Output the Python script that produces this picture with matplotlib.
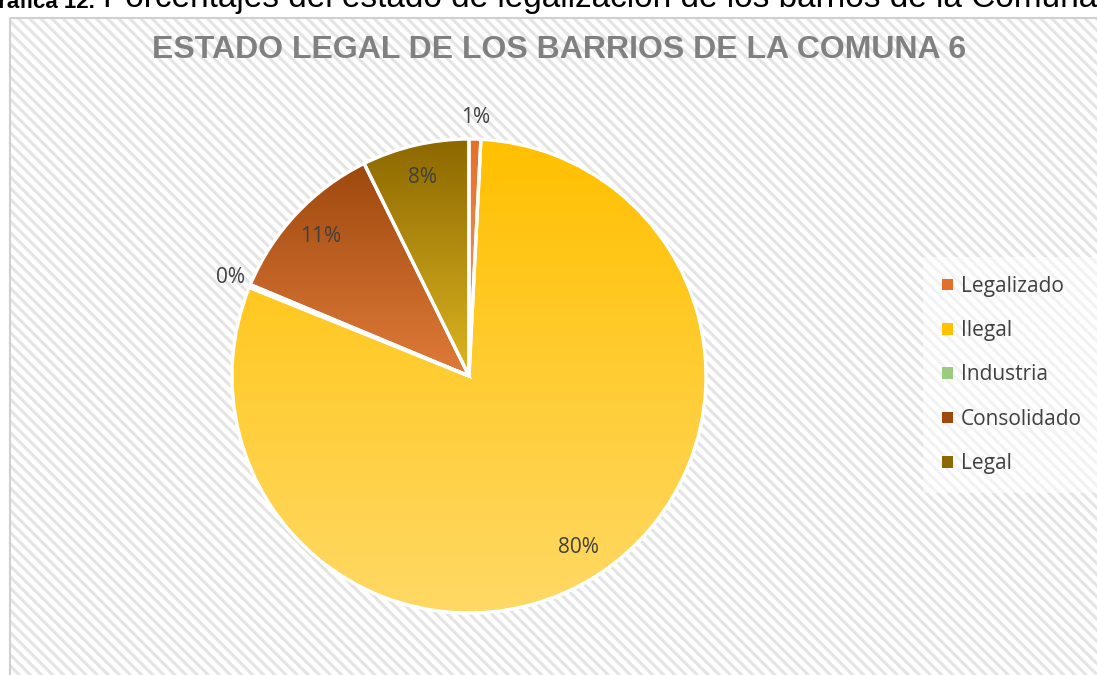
import numpy as np
import matplotlib.pyplot as plt
from matplotlib.patches import Rectangle
from matplotlib.colors import LinearSegmentedColormap

# datos del grafico
categorias = ['Legalizado', 'Ilegal', 'Industria', 'Consolidado', 'Legal']
porcentajes = [0.8, 80.3, 0.2, 11.4, 7.3]
etiquetas = ['1%', '80%', '0%', '11%', '8%']
color_arriba = ['#E2702A', '#FFC000', '#5E9A38', '#9E480E', '#8C6800']
color_abajo = ['#F4A269', '#FFD966', '#9BCB7C', '#E07B39', '#DDB521']

plt.rcParams['hatch.linewidth'] = 2.2

W, H = 1097, 675
fig = plt.figure(figsize=(W / 100, H / 100), dpi=100)
fig.patch.set_facecolor('white')

# fondo rayado del area del grafico
axf = fig.add_axes([0, 0, 1, 1], zorder=-5)
axf.set_xlim(0, W)
axf.set_ylim(H, 0)
axf.axis('off')
axf.add_patch(Rectangle((10, 18), W, H, facecolor='white', edgecolor='#E4E4E4',
                        linewidth=0, hatch='\\\\\\'))
axf.add_patch(Rectangle((10, 18), W, H + 5, facecolor='none', edgecolor='#D0D0D0',
                        linewidth=1.5))

# texto de la figura (cortado arriba)
fig.text(95 / W, 1 - 7.5 / H, 'Gráfica 12.', fontsize=16, fontweight='bold',
         family='Liberation Sans', color='black', va='baseline', ha='right')
fig.text(103 / W, 1 - 7.5 / H,
         'Porcentajes del estado de legalización de los barrios de la Comuna 6',
         fontsize=24, family='Liberation Sans', color='black', va='baseline', ha='left')

# titulo
fig.text(559 / W, 1 - 50 / H, 'ESTADO LEGAL DE LOS BARRIOS DE LA COMUNA 6',
         fontsize=23, fontweight='bold', color='#808080', ha='center', va='center',
         family='Liberation Sans')

# pastel
cx, cy, r = 469, 376, 237
ax = fig.add_axes([(cx - r) / W, 1 - (cy + r) / H, 2 * r / W, 2 * r / H])
ax.set_xlim(-1, 1)
ax.set_ylim(-1, 1)
ax.axis('off')

wedges, _ = ax.pie(porcentajes, startangle=90, counterclock=False, radius=1,
                   wedgeprops=dict(edgecolor='white', linewidth=2.4))

grad = np.linspace(0, 1, 256).reshape(-1, 1)
for i, w in enumerate(wedges):
    cmap = LinearSegmentedColormap.from_list('g%d' % i, [color_arriba[i], color_abajo[i]])
    verts = w.get_path().vertices
    verts = w.get_patch_transform().transform(verts)
    x0, x1 = verts[:, 0].min(), verts[:, 0].max()
    y0, y1 = verts[:, 1].min(), verts[:, 1].max()
    if x1 - x0 < 1e-6:
        x1 = x0 + 0.01
    if y1 - y0 < 1e-6:
        y1 = y0 + 0.01
    w.set_facecolor('none')
    w.set_zorder(3)
    im = ax.imshow(grad, cmap=cmap, extent=[x0, x1, y0, y1], origin='upper',
                   aspect='auto', zorder=2, interpolation='bilinear')
    im.set_clip_path(w)
ax.set_xlim(-1, 1)
ax.set_ylim(-1, 1)

# etiquetas de datos
total = sum(porcentajes)
acum = 0
for i, v in enumerate(porcentajes):
    medio = 90 - 360 * (acum + v / 2) / total
    acum += v
    dist = 1.09 if v < 2 else 0.86
    ax.text(dist * np.cos(np.radians(medio)), dist * np.sin(np.radians(medio)),
            etiquetas[i], ha='center', va='center', fontsize=15,
            color='#404040', family='Open Sans', zorder=5, clip_on=False)

# leyenda
handles = []
for i, c in enumerate(categorias):
    handles.append(plt.Rectangle((0, 0), 1, 1, facecolor=color_abajo[i] if i == 2 else color_arriba[i],
                                 edgecolor='none'))
leg = fig.legend(handles, categorias, loc='center left', bbox_to_anchor=(913 / W, 1 - 375 / H),
                 frameon=True, handlelength=0.5, handleheight=0.5,
                 handletextpad=0.4, labelspacing=1.12, borderpad=0.9,
                 prop={'family': 'Open Sans', 'size': 15})
leg.get_frame().set_facecolor('white')
leg.get_frame().set_alpha(0.55)
leg.get_frame().set_edgecolor('none')
leg.get_frame().set_boxstyle('square', pad=0)
for t in leg.get_texts():
    t.set_color('#404040')

fig.savefig('out.png', dpi=100)
